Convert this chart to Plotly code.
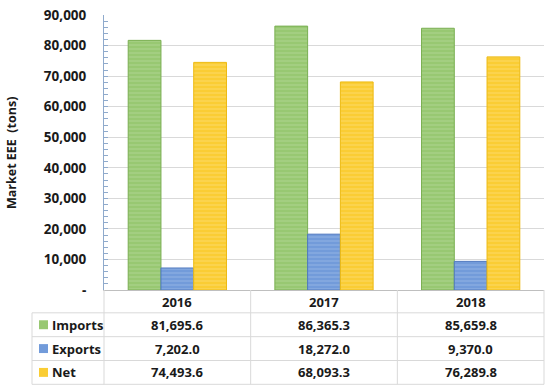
import plotly.graph_objects as go

years = ["2016", "2017", "2018"]
series_names = ["Imports", "Exports", "Net"]
imports = [81695.6, 86365.3, 85659.8]
exports = [7202.0, 18272.0, 9370.0]
net = [74493.6, 68093.3, 76289.8]
series_values = [imports, exports, net]
fill_colors = ["#98C872", "#729BDA", "#FACD34"]
line_colors = ["#7AAF52", "#5079BF", "#EDBA12"]
stripe_colors = ["#B8DA9E", "#9FBBE8", "#FDE07A"]
ytick_vals = [0, 10000, 20000, 30000, 40000, 50000, 60000, 70000, 80000, 90000]
ytick_text = ["-", "10,000", "20,000", "30,000", "40,000", "50,000", "60,000", "70,000", "80,000", "90,000"]

FONT = "Open Sans"
W, H = 550, 391
ML, MR, MT, MB = 104, 6, 13, 101
PH = H - MT - MB
PW = W - ML - MR


def py(pix):
    return (H - MB - pix) / PH


def px(pix):
    return (pix - ML) / PW


def col_center(i):
    return (i + 0.5) / len(years)


fig = go.Figure()
for name, vals, fc, lc, sc in zip(series_names, series_values, fill_colors, line_colors, stripe_colors):
    fig.add_trace(go.Bar(
        x=years, y=vals, name=name,
        marker=dict(color=fc, line=dict(color=lc, width=1),
                    pattern=dict(shape="-", fgcolor=sc, bgcolor=fc, size=4, solidity=0.35)),
        showlegend=False, hoverinfo="skip",
    ))

shapes = []
annotations = []
grid = "#D9D9D9"
for yp in [313, 337, 361, 385]:
    shapes.append(dict(type="line", xref="paper", yref="paper", x0=px(32), x1=1.0, y0=py(yp), y1=py(yp),
                       line=dict(color=grid, width=1)))
shapes.append(dict(type="line", xref="paper", yref="paper", x0=px(32), x1=px(32), y0=py(313), y1=py(385),
                   line=dict(color=grid, width=1)))
for i in range(len(years) + 1):
    xf = i / len(years)
    shapes.append(dict(type="line", xref="paper", yref="paper", x0=xf, x1=xf, y0=py(290), y1=py(385),
                       line=dict(color=grid, width=1)))

for i, yr in enumerate(years):
    annotations.append(dict(x=col_center(i), y=py(302), xref="paper", yref="paper", text="<b>%s</b>" % yr,
                            showarrow=False, font=dict(family=FONT, size=13, color="#1a1a1a"),
                            xanchor="center", yanchor="middle"))

row_centers = [325, 349, 373]
for name, vals, fc, rc in zip(series_names, series_values, fill_colors, row_centers):
    shapes.append(dict(type="rect", xref="paper", yref="paper", x0=px(39), x1=px(48), y0=py(rc + 4.5), y1=py(rc - 4.5),
                       fillcolor=fc, line=dict(width=0)))
    annotations.append(dict(x=px(50), y=py(rc), xref="paper", yref="paper", text="<b>%s</b>" % name, showarrow=False,
                            font=dict(family=FONT, size=13, color="#1a1a1a"), xanchor="left", yanchor="middle"))
    for i, v in enumerate(vals):
        annotations.append(dict(x=col_center(i), y=py(rc), xref="paper", yref="paper",
                                text="<b>{:,.1f}</b>".format(v),
                                showarrow=False, font=dict(family=FONT, size=13, color="#1a1a1a"),
                                xanchor="center", yanchor="middle"))

annotations.append(dict(x=px(12), y=py(152), xref="paper", yref="paper", text="<b>Market EEE  (tons)</b>",
                        textangle=-90, showarrow=False, font=dict(family=FONT, size=12.5, color="#1a1a1a"),
                        xanchor="center", yanchor="middle"))

fig.update_layout(
    width=W, height=H,
    margin=dict(l=ML, r=MR, t=MT, b=MB),
    paper_bgcolor="white", plot_bgcolor="white",
    barmode="group", bargap=0.33, bargroupgap=0,
    shapes=shapes, annotations=annotations,
    font=dict(family=FONT),
)
fig.update_xaxes(type="category", range=[-0.5, len(years) - 0.5], showticklabels=False, showline=True,
                 linecolor="#BFBFBF", linewidth=1, ticks="", showgrid=False, zeroline=False)
fig.update_yaxes(range=[0, 90000], tickvals=ytick_vals, ticktext=["<b>%s</b>" % t for t in ytick_text],
                 tickfont=dict(family=FONT, size=13.5, color="#1a1a1a"),
                 showgrid=True, gridcolor="#D9D9D9", gridwidth=1, zeroline=False,
                 showline=True, linecolor="#8FAACC", linewidth=1,
                 ticks="inside", ticklen=4, tickcolor="#8FAACC", ticklabelstandoff=14,
                 minor=dict(dtick=2000, ticks="inside", ticklen=4, tickcolor="#8FAACC", showgrid=False))

fig.write_html("out.html", config={"displayModeBar": False},
               post_script="document.body.style.margin='0';document.body.style.overflow='hidden';")
